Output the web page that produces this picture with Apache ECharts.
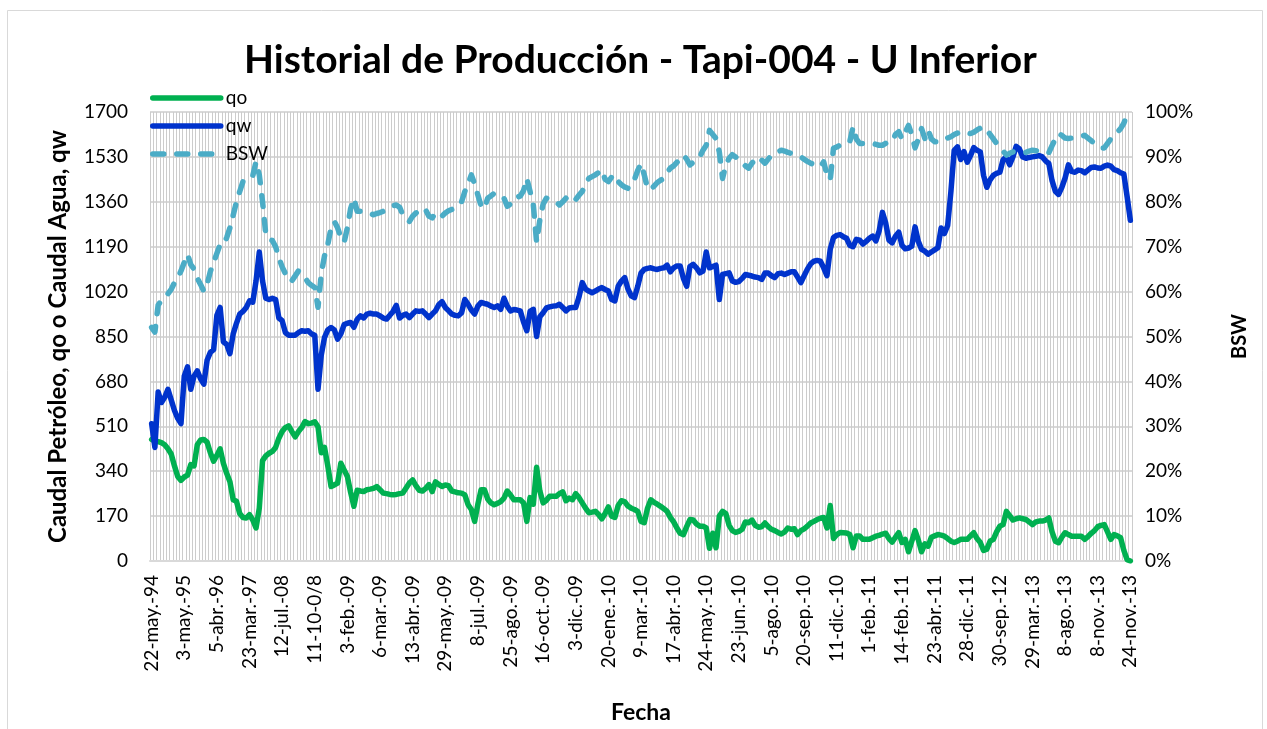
<!DOCTYPE html>
<html>
<head>
<meta charset="utf-8">
<title>Historial de Producción - Tapi-004 - U Inferior</title>
<script src="https://cdn.jsdelivr.net/npm/echarts@6/dist/echarts.min.js"></script>
<style>
  html, body { margin: 0; padding: 0; background: #fff; }
  #chart { width: 1267px; height: 729px; }
</style>
</head>
<body>
<div id="chart"></div>
<script>
// one tick label every 10 samples
const tickLabels = [
  '22-may.-94', '3-may.-95', '5-abr.-96', '23-mar.-97', '12-jul.-08', '11-10-0/8',
  '3-feb.-09', '6-mar.-09', '13-abr.-09', '29-may.-09', '8-jul.-09', '25-ago.-09',
  '16-oct.-09', '3-dic.-09', '20-ene.-10', '9-mar.-10', '17-abr.-10', '24-may.-10',
  '23-jun.-10', '5-ago.-10', '20-sep.-10', '11-dic.-10', '1-feb.-11', '14-feb.-11',
  '23-abr.-11', '28-dic.-11', '30-sep.-12', '29-mar.-13', '8-ago.-13', '8-nov.-13',
  '24-nov.-13'
]

// caudal de petróleo
const qo = [
  460, 455, 452, 448, 440, 425, 405, 360, 320, 305,
  318, 325, 365, 360, 440, 458, 460, 450, 410, 378,
  400, 425, 370, 332, 300, 232, 226, 180, 165, 163,
  175, 155, 125, 200, 380, 398, 408, 415, 430, 465,
  490, 505, 512, 490, 470, 490, 505, 528, 520, 522,
  527, 508, 410, 430, 360, 282, 288, 295, 370, 345,
  320, 260, 207, 268, 265, 263, 270, 272, 275, 282,
  270, 257, 255, 252, 251, 252, 255, 257, 276, 295,
  307, 285, 268, 265, 275, 289, 263, 300, 290, 282,
  288, 285, 265, 262, 258, 257, 250, 213, 195, 150,
  215, 270, 270, 235, 220, 213, 218, 225, 238, 265,
  250, 232, 232, 232, 220, 150, 240, 215, 355, 265,
  220, 230, 245, 245, 245, 255, 262, 228, 238, 232,
  255, 240, 220, 200, 183, 185, 188, 176, 160, 180,
  205, 170, 165, 210, 228, 225, 208, 200, 195, 188,
  150, 145, 200, 232, 222, 215, 207, 198, 188, 165,
  148, 125, 105, 100, 130, 157, 155, 140, 132, 132,
  125, 48, 105, 50, 170, 188, 180, 135, 115, 108,
  112, 120, 148, 145, 155, 135, 128, 130, 144, 130,
  120, 115, 108, 102, 110, 125, 120, 122, 100, 115,
  122, 132, 144, 150, 157, 162, 165, 125, 210, 85,
  100, 108, 107, 106, 100, 50, 95, 95, 82, 82,
  82, 88, 94, 97, 102, 105, 85, 72, 90, 107,
  70, 82, 35, 75, 115, 80, 35, 65, 56, 90,
  95, 100, 98, 94, 85, 75, 70, 75, 82, 82,
  82, 95, 107, 85, 70, 40, 45, 75, 82, 110,
  132, 138, 188, 172, 155, 160, 163, 160, 157, 148,
  138, 148, 151, 151, 155, 163, 110, 75, 69, 90,
  107, 100, 94, 94, 94, 94, 82, 92, 105, 115,
  130, 135, 138, 110, 82, 100, 95, 88, 40, 5,
  0
]

// caudal de agua
const qw = [
  520, 430, 640, 600, 620, 650, 610, 570, 540, 520,
  700, 735, 650, 700, 720, 690, 670, 760, 790, 800,
  930, 960, 830, 820, 785, 860, 900, 935, 945, 960,
  985, 980, 1060, 1170, 1060, 995, 990, 995, 990, 920,
  910, 865, 855, 855, 855, 865, 872, 870, 872, 860,
  855, 650, 780, 847, 875, 884, 875, 840, 860, 895,
  900, 903, 885, 915, 928, 920, 935, 938, 935, 935,
  928, 920, 916, 930, 945, 968, 920, 930, 935, 922,
  935, 947, 945, 947, 935, 922, 935, 947, 970, 982,
  960, 948, 935, 930, 928, 940, 990, 972, 950, 935,
  965, 979, 975, 972, 965, 960, 966, 953, 995, 965,
  947, 952, 950, 947, 905, 872, 945, 953, 850, 925,
  940, 958, 962, 965, 966, 972, 960, 947, 958, 960,
  960, 1000, 1054, 1030, 1022, 1016, 1022, 1030, 1035, 1028,
  1022, 990, 985, 1040, 1060, 1073, 1030, 1004, 997, 1040,
  1090, 1104, 1108, 1110, 1106, 1104, 1108, 1110, 1120, 1095,
  1110, 1117, 1117, 1070, 1040, 1115, 1123, 1110, 1091, 1098,
  1170, 1110, 1115, 1120, 990, 1085, 1088, 1091, 1060, 1055,
  1058, 1070, 1085, 1082, 1079, 1075, 1073, 1066, 1090, 1090,
  1080, 1073, 1088, 1090, 1085, 1090, 1095, 1095, 1075, 1054,
  1080, 1105, 1125, 1135, 1138, 1135, 1110, 1080, 1180, 1225,
  1233, 1236, 1228, 1222, 1195, 1190, 1218, 1215, 1200, 1210,
  1222, 1230, 1212, 1250, 1320, 1280, 1215, 1205, 1230, 1245,
  1195, 1182, 1185, 1192, 1265, 1210, 1180, 1173, 1162, 1170,
  1178, 1186, 1261, 1240, 1270, 1400, 1555, 1568, 1520, 1550,
  1510, 1535, 1565, 1555, 1549, 1460, 1415, 1443, 1460, 1468,
  1472, 1520, 1530, 1500, 1530, 1570, 1560, 1530, 1525, 1528,
  1530, 1532, 1535, 1530, 1515, 1505, 1440, 1400, 1388, 1415,
  1450, 1500, 1475, 1472, 1480, 1478, 1470, 1480, 1490, 1492,
  1488, 1487, 1495, 1499, 1495, 1482, 1478, 1470, 1465, 1380,
  1290
]

// BSW en %
const bsw = [
  52, 51, 57, 58, 59, 59.5, 60.5, 62, 63, 64.6,
  66.5, 68.3, 66, 65, 63, 61.6, 60.1, 61.6, 64.5, 66.5,
  68.5, 70.5, 70.5, 72, 74.2, 77, 80, 82.3, 84.5, 85.4,
  85.6, 85.8, 88.9, 86, 80, 72.7, 71.6, 71.4, 70, 67.5,
  65.5, 64, 62.4, 62.4, 63.5, 64.6, 63.8, 63.1, 62, 61.4,
  60.9, 56.5, 64, 68, 70.5, 74.2, 75.6, 74.2, 72, 71,
  74.2, 78.5, 80.8, 77.9, 77.9, 77.9, 77.6, 77.4, 77.1, 77.4,
  77.6, 77.9, 78.3, 78.7, 79.1, 79.3, 78.8, 77.1, 76.5, 75.6,
  76.8, 77.5, 78, 78.6, 78.2, 76.8, 76.4, 77.5, 77.5, 76.8,
  77.5, 78, 78.3, 78.6, 79.2, 80, 82.3, 84, 86, 84,
  81.5, 79, 78.5, 80.8, 81.3, 81.9, 81.5, 81, 80.8, 79,
  79.5, 80.8, 81, 81.3, 82.5, 85.2, 82.3, 79.3, 71, 76,
  79.5, 80.8, 80.6, 80.4, 80, 79.3, 80, 80.8, 80.3, 79.8,
  80.5, 81.5, 82.3, 84, 85.2, 85.6, 86, 86.5, 87.1, 85,
  84.5, 85.5, 86, 84.5, 83.8, 83.3, 83, 84, 85, 87,
  88.5, 86, 83, 82.7, 83.5, 84.3, 84.8, 85.2, 86.5, 87.5,
  88, 88.8, 89.5, 90.4, 89.5, 88.2, 88.8, 89.3, 90, 91.5,
  92.6, 95.9, 95, 94.1, 91.1, 85.2, 88.2, 89.7, 90.5, 90,
  89.3, 88.9, 88, 87.5, 88.6, 89.3, 90, 89.3, 88.6, 89.5,
  90.4, 90.8, 91.1, 91.5, 91.3, 91, 90.8, 90.5, 90.3, 90,
  89.5, 89, 88.6, 88.3, 88, 87.8, 88.9, 86, 84.9, 91.9,
  92.2, 92.6, 92.8, 93, 93.4, 96.7, 94, 93, 93, 93,
  93, 93, 92.8, 92.6, 92.6, 93, 93.2, 93.4, 95, 95.6,
  94, 95.5, 97, 95, 92, 94, 96.3, 94.1, 96, 94,
  93.4, 93.4, 93.4, 93.8, 94.2, 94.5, 95, 95.3, 95.6, 95.5,
  95.4, 95.2, 95.5, 96, 96.4, 96.7, 96, 95, 94, 93,
  92.3, 91.3, 90.4, 90.8, 91.1, 91, 90.9, 90.8, 91, 91.3,
  91.5, 91.4, 91.2, 91.1, 91, 90.9, 92.5, 94, 95.2, 94.8,
  94.2, 94.1, 94.2, 94.4, 94.5, 94.6, 94.8, 94.2, 93.6, 93,
  92.5, 92, 92, 93, 94, 94.8, 95.5, 96.3, 97.5, 99.5,
  100
]

const categories = qo.map((_, i) => (i % 10 === 0 ? tickLabels[i / 10] : ''))

const FONT = 'Lato'
const QO_COLOR = '#00B050'
const QW_COLOR = '#0033CC'
const BSW_COLOR = '#4BACC6'
const LINE_W = 5.5
const BSW_DASH = [11, 13]

const chart = echarts.init(document.getElementById('chart'))

const option = {
  animation: false,
  backgroundColor: '#fff',
  textStyle: { fontFamily: FONT, color: '#000' },
  title: {
    text: 'Historial de Producción - Tapi-004 - U Inferior',
    left: 239,
    top: 36,
    textStyle: { fontFamily: FONT, fontSize: 39, fontWeight: 'bold', color: '#000' }
  },
  legend: {
    orient: 'vertical',
    left: 145,
    top: 83,
    itemWidth: 68,
    itemHeight: 14,
    itemGap: 8,
    itemStyle: { opacity: 0 },
    textStyle: { fontFamily: FONT, fontSize: 19, color: '#000', lineHeight: 20 },
    data: [
      { name: 'qo', lineStyle: { color: QO_COLOR, width: LINE_W } },
      { name: 'qw', lineStyle: { color: QW_COLOR, width: LINE_W } },
      { name: 'BSW', lineStyle: { color: BSW_COLOR, width: LINE_W, type: BSW_DASH } }
    ]
  },
  graphic: [{
    type: 'rect',
    silent: true,
    shape: { x: 7.5, y: 10.5, width: 1255, height: 740 },
    style: { fill: 'none', stroke: '#d9d9d9', lineWidth: 1 }
  }],
  grid: {
    left: 150,
    right: 135,
    top: 112,
    bottom: 168,
    outerBoundsMode: 'none'
  },
  xAxis: {
    type: 'category',
    data: categories,
    name: 'Fecha',
    nameLocation: 'middle',
    nameGap: 140,
    nameTextStyle: { fontFamily: FONT, fontSize: 23, fontWeight: 'bold', color: '#000' },
    axisLine: { show: true, lineStyle: { color: '#d9d9d9', width: 2 } },
    axisTick: { show: false },
    axisLabel: {
      interval: 0,
      rotate: 90,
      margin: 14,
      fontFamily: FONT,
      fontSize: 19,
      color: '#000'
    },
    splitLine: { show: true, interval: 0, lineStyle: { color: '#cccccc', width: 1 } }
  },
  yAxis: [
    {
      type: 'value',
      min: 0,
      max: 1700,
      interval: 170,
      name: 'Caudal Petróleo, qo o Caudal Agua, qw',
      nameLocation: 'middle',
      nameRotate: 90,
      nameGap: 80,
      nameTextStyle: { fontFamily: FONT, fontSize: 24, fontWeight: 'bold', color: '#000' },
      axisLine: { show: false },
      axisTick: { show: false },
      axisLabel: {
        margin: 22,
        fontFamily: FONT,
        fontSize: 19,
        color: '#000',
        formatter: (v) => String(v)
      },
      splitLine: { show: true, lineStyle: { color: '#d9d9d9', width: 2 } }
    },
    {
      type: 'value',
      min: 0,
      max: 100,
      interval: 10,
      position: 'right',
      name: 'BSW',
      nameLocation: 'middle',
      nameRotate: 90,
      nameGap: 98,
      nameTextStyle: { fontFamily: FONT, fontSize: 20, fontWeight: 'bold', color: '#000' },
      axisLine: { show: false },
      axisTick: { show: false },
      axisLabel: { margin: 13, fontFamily: FONT, fontSize: 19, color: '#000', formatter: '{value}%' },
      splitLine: { show: false }
    }
  ],
  series: [
    {
      name: 'qo',
      type: 'line',
      data: qo,
      symbol: 'none',
      itemStyle: { color: QO_COLOR },
      lineStyle: { color: QO_COLOR, width: LINE_W, cap: 'round', join: 'round' }
    },
    {
      name: 'qw',
      type: 'line',
      data: qw,
      symbol: 'none',
      itemStyle: { color: QW_COLOR },
      lineStyle: { color: QW_COLOR, width: LINE_W, cap: 'round', join: 'round' }
    },
    {
      name: 'BSW',
      type: 'line',
      yAxisIndex: 1,
      data: bsw,
      symbol: 'none',
      itemStyle: { color: BSW_COLOR },
      lineStyle: { color: BSW_COLOR, width: LINE_W, type: BSW_DASH, cap: 'round', join: 'round' }
    }
  ]
}

chart.setOption(option)
window.addEventListener('resize', () => chart.resize())
</script>
</body>
</html>
